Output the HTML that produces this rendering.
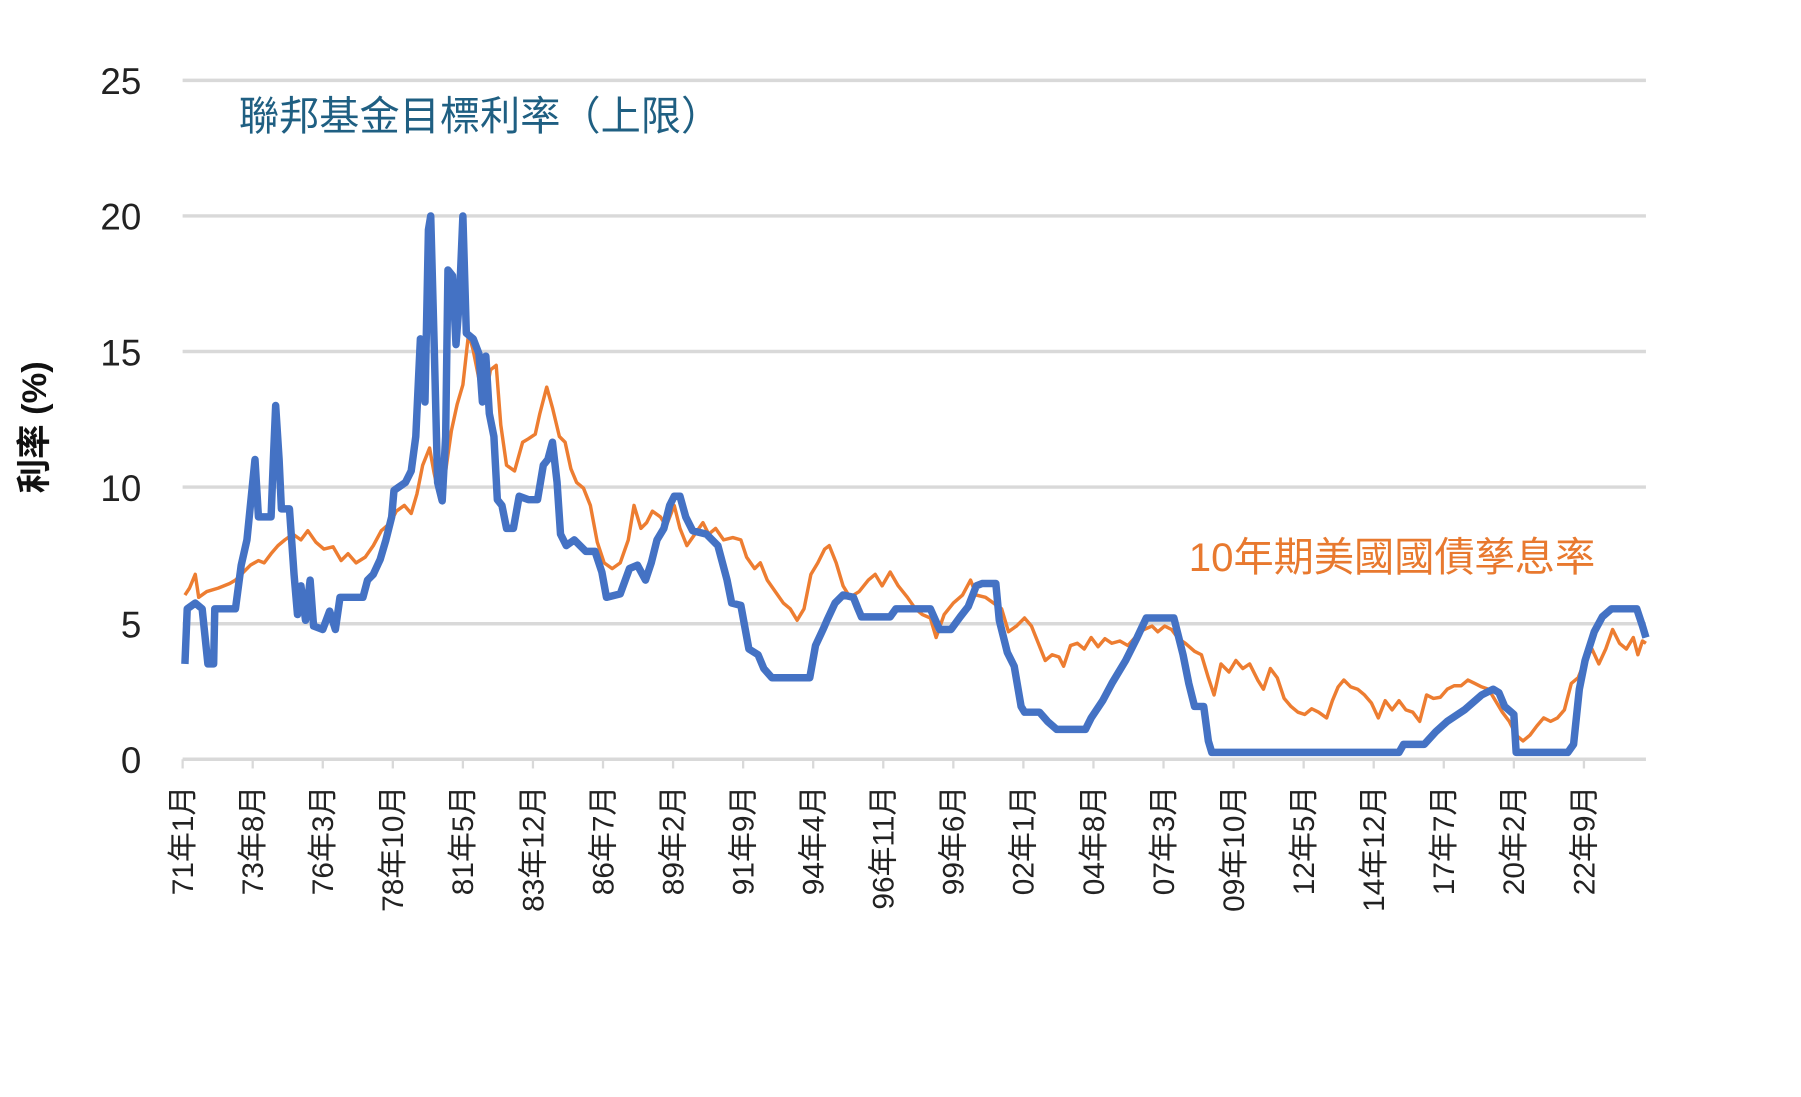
<!DOCTYPE html>
<html><head><meta charset="utf-8"><style>
html,body{margin:0;padding:0;background:#fff;}
svg{display:block;}
text{font-family:"Liberation Sans","Noto Sans CJK TC",sans-serif;}
</style></head><body>
<svg width="1801" height="1097" viewBox="0 0 1568 955" preserveAspectRatio="none" xmlns="http://www.w3.org/2000/svg">
<g stroke="#d9d9d9" stroke-width="3">
<line x1="159" y1="70" x2="1433" y2="70"/>
<line x1="159" y1="188" x2="1433" y2="188"/>
<line x1="159" y1="306" x2="1433" y2="306"/>
<line x1="159" y1="424" x2="1433" y2="424"/>
<line x1="159" y1="543" x2="1433" y2="543"/>
<line x1="159" y1="661" x2="1433" y2="661"/>
</g>
<g stroke="#d9d9d9" stroke-width="2">
<line x1="159" y1="661" x2="159" y2="669"/><line x1="220" y1="661" x2="220" y2="669"/><line x1="281" y1="661" x2="281" y2="669"/><line x1="342" y1="661" x2="342" y2="669"/><line x1="403" y1="661" x2="403" y2="669"/><line x1="464" y1="661" x2="464" y2="669"/><line x1="525" y1="661" x2="525" y2="669"/><line x1="586" y1="661" x2="586" y2="669"/><line x1="647" y1="661" x2="647" y2="669"/><line x1="708" y1="661" x2="708" y2="669"/><line x1="769" y1="661" x2="769" y2="669"/><line x1="830" y1="661" x2="830" y2="669"/><line x1="891" y1="661" x2="891" y2="669"/><line x1="952" y1="661" x2="952" y2="669"/><line x1="1013" y1="661" x2="1013" y2="669"/><line x1="1074" y1="661" x2="1074" y2="669"/><line x1="1135" y1="661" x2="1135" y2="669"/><line x1="1196" y1="661" x2="1196" y2="669"/><line x1="1257" y1="661" x2="1257" y2="669"/><line x1="1318" y1="661" x2="1318" y2="669"/><line x1="1379" y1="661" x2="1379" y2="669"/>
</g>
<g font-size="32" fill="#222" text-anchor="end">
<text x="123" y="82">25</text><text x="123" y="200">20</text><text x="123" y="318">15</text><text x="123" y="436">10</text><text x="123" y="555">5</text><text x="123" y="673">0</text>
</g>
<text transform="translate(40,372) rotate(-90)" text-anchor="middle" font-size="30" font-weight="bold" fill="#111">利率 (%)</text>
<g font-size="26" fill="#222" text-anchor="end">
<text transform="translate(168,684) rotate(-90)">71年1月</text>
<text transform="translate(229,684) rotate(-90)">73年8月</text>
<text transform="translate(290,684) rotate(-90)">76年3月</text>
<text transform="translate(351,684) rotate(-90)">78年10月</text>
<text transform="translate(412,684) rotate(-90)">81年5月</text>
<text transform="translate(473,684) rotate(-90)">83年12月</text>
<text transform="translate(534,684) rotate(-90)">86年7月</text>
<text transform="translate(595,684) rotate(-90)">89年2月</text>
<text transform="translate(656,684) rotate(-90)">91年9月</text>
<text transform="translate(717,684) rotate(-90)">94年4月</text>
<text transform="translate(778,684) rotate(-90)">96年11月</text>
<text transform="translate(839,684) rotate(-90)">99年6月</text>
<text transform="translate(900,684) rotate(-90)">02年1月</text>
<text transform="translate(961,684) rotate(-90)">04年8月</text>
<text transform="translate(1022,684) rotate(-90)">07年3月</text>
<text transform="translate(1083,684) rotate(-90)">09年10月</text>
<text transform="translate(1144,684) rotate(-90)">12年5月</text>
<text transform="translate(1205,684) rotate(-90)">14年12月</text>
<text transform="translate(1266,684) rotate(-90)">17年7月</text>
<text transform="translate(1327,684) rotate(-90)">20年2月</text>
<text transform="translate(1388,684) rotate(-90)">22年9月</text>
</g>
<text x="208" y="113" font-size="35" fill="#1f5f82">聯邦基金目標利率（上限）</text>
<text x="1035" y="497" font-size="35" fill="#e8792f">10年期美國國債孳息率</text>
<polyline fill="none" stroke="#ed7d31" stroke-width="3" stroke-linejoin="round" points="161,518 165,512 170,500 173,520 180,515 190,512 200,508 205,505 210,500 218,492 225,488 230,490 236,482 242,475 248,470 255,465 262,470 268,462 275,472 282,478 290,476 297,488 303,482 310,490 318,485 325,475 332,462 340,455 345,445 352,440 358,447 363,430 368,405 374,390 378,412 383,435 388,410 393,375 398,352 403,335 408,290 412,305 417,330 422,350 427,322 432,318 436,370 441,405 448,410 455,385 460,382 466,378 470,360 476,337 481,355 487,380 492,385 497,408 502,420 508,425 514,440 520,472 526,490 533,495 540,490 547,470 552,440 558,460 563,455 568,445 575,450 580,458 587,440 592,460 598,475 605,465 612,455 617,465 623,460 630,470 638,468 645,470 650,485 657,495 662,490 668,505 675,515 682,525 688,530 694,540 700,530 706,500 712,490 718,478 722,475 728,490 734,510 740,520 748,515 756,505 762,500 768,510 775,498 782,510 790,520 797,530 803,535 810,538 815,555 822,535 830,525 838,518 845,505 850,518 858,520 865,525 872,530 878,550 885,545 892,538 898,545 904,560 910,575 916,570 922,572 926,580 932,562 938,560 944,565 950,555 956,563 962,556 968,560 975,558 982,562 990,553 996,548 1003,545 1008,550 1014,545 1020,548 1026,556 1032,560 1040,567 1046,570 1052,590 1057,605 1063,578 1070,585 1076,575 1082,582 1088,578 1095,592 1100,600 1106,582 1112,590 1118,608 1124,615 1130,620 1136,622 1142,617 1148,620 1155,625 1160,610 1165,598 1170,592 1176,598 1182,600 1188,605 1194,612 1200,625 1206,610 1212,618 1218,610 1224,618 1230,620 1236,628 1242,605 1248,608 1254,607 1260,600 1266,597 1272,597 1278,592 1284,595 1290,598 1296,600 1302,610 1308,620 1314,628 1320,640 1326,645 1332,640 1338,632 1344,625 1350,628 1356,625 1362,618 1368,595 1374,590 1380,575 1386,565 1392,578 1398,565 1404,548 1410,560 1416,565 1422,555 1426,570 1430,558 1433,560"/>
<polyline fill="none" stroke="#4472c4" stroke-width="6.5" stroke-linejoin="round" points="161,578 163,530 170,525 176,530 181,578 186,578 187,530 205,530 210,492 215,470 219,430 222,400 225,450 236,450 238,400 240,353 243,400 245,443 252,443 256,500 259,535 262,510 266,540 270,505 273,545 281,548 287,532 292,548 296,520 316,520 320,505 325,500 331,487 336,470 341,450 343,427 353,420 358,410 362,380 366,295 370,350 373,200 375,188 378,300 381,420 385,436 388,380 390,235 394,240 397,300 400,260 403,188 406,290 412,295 417,308 420,350 423,310 426,360 430,380 433,435 437,440 441,460 447,460 452,432 460,435 468,435 473,405 477,400 481,385 485,420 488,465 493,475 500,470 510,480 518,480 524,498 528,520 540,517 548,495 555,492 562,505 567,490 572,470 578,460 583,440 587,432 592,432 597,450 603,462 615,465 625,475 633,505 637,525 645,527 652,565 660,570 665,582 672,590 705,590 710,562 717,547 720,540 727,525 734,518 743,520 747,530 750,537 775,537 780,530 810,530 818,548 828,548 836,537 843,528 850,510 855,508 867,508 870,540 877,568 883,580 889,615 892,620 905,620 912,628 920,635 945,635 950,625 960,610 968,595 980,575 990,555 998,538 1022,538 1030,570 1035,595 1040,615 1048,615 1052,645 1055,655 1218,655 1222,648 1240,648 1250,637 1260,628 1275,618 1290,605 1300,600 1305,603 1310,615 1318,622 1320,655 1365,655 1370,648 1375,600 1380,575 1388,550 1395,537 1403,530 1425,530 1430,545 1433,555"/>
</svg>
</body></html>
